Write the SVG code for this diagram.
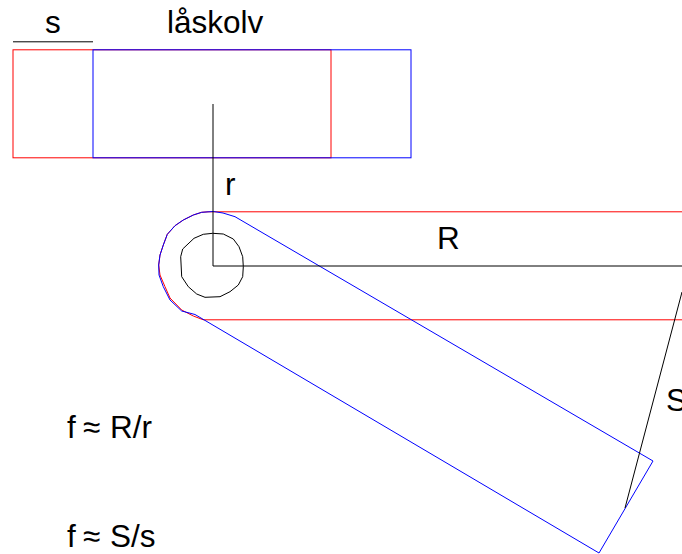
<svg xmlns="http://www.w3.org/2000/svg" width="682" height="554" viewBox="0 0 682 554">
<style>
.r{fill:none;stroke:#ff0000;stroke-width:1}
.b{fill:none;stroke:#0000ff;stroke-width:1}
.k{fill:none;stroke:#000000;stroke-width:1}
text{font-family:"Liberation Sans",Arial,sans-serif;font-size:31.5px;fill:#000}
</style>
<rect width="682" height="554" fill="#fff"/>
<g id="red-shapes">
<rect class="r" x="13" y="49.8" width="318" height="108"/>
<path class="r" d="M682 211.800H208L201.700 212.300L193.300 215L183.300 220L175 225.700L167.300 234.300L163.300 245L160 255L158.700 265L160 275L165 286.700L170 298L181.700 310L193.300 316L203.300 319.800H682"/>
</g>
<g id="blue-shapes">
<rect class="b" x="93" y="49.800" width="318" height="108"/>
<path class="b" d="M653 461L235 216.700L223 213L213.300 211.500L201.700 212.300L193.300 215L183.300 220L175 225.700L167.300 234.300L163.300 245L160 255L158.700 265L159 275L163.300 286.700L170 300L181.700 311L195 314.500L599 553Z"/>
</g>
<g id="black-lines">
<line class="k" x1="13" y1="41.800" x2="93" y2="41.800"/>
<path class="k" d="M213 104V266H682"/>
<line class="k" x1="682" y1="292" x2="625" y2="508"/>
<polygon class="k" points="212.700,233.300 223.300,234 233.300,239 239,246.700 242.700,256.700 243.300,266.700 242.700,276.700 238.300,285 230,291.700 220,296.700 205,297.300 196.700,294 188.300,286.700 181.700,276.700 180.700,256.700 182.700,249 194,238.300 203.300,234.300"/>
</g>
<g id="labels">
<text x="45" y="33">s</text>
<text x="167" y="33">låskolv</text>
<text x="225" y="195">r</text>
<text x="437" y="249">R</text>
<text x="666" y="411">S</text>
<text x="67" y="438">f <tspan x="83">≈</tspan> <tspan x="110">R/r</tspan></text>
<text x="67" y="547">f <tspan x="83">≈</tspan> <tspan x="110">S/s</tspan></text>
</g>
</svg>
